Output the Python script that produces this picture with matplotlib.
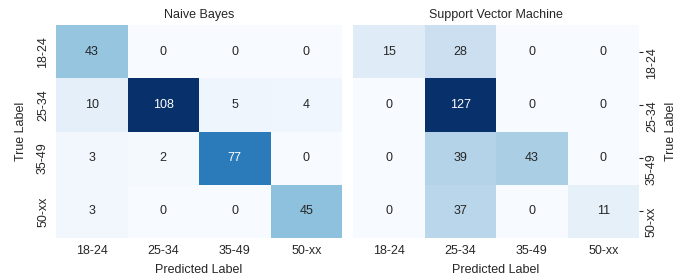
import matplotlib
matplotlib.use("Agg")
import matplotlib.pyplot as plt
import seaborn as sns
import numpy as np

labels = ["18-24", "25-34", "35-49", "50-xx"]
nb_matrix = [[43, 0, 0, 0],
             [10, 108, 5, 4],
             [3, 2, 77, 0],
             [3, 0, 0, 45]]
svm_matrix = [[15, 28, 0, 0],
              [0, 127, 0, 0],
              [0, 39, 43, 0],
              [0, 37, 0, 11]]
titles = ["Naive Bayes", "Support Vector Machine"]

sns.set_style("white")
plt.rcParams['font.family'] = ['Liberation Sans', 'DejaVu Sans']
text_color = "#262626"
fs = 9

fig = plt.figure(figsize=(6.83, 2.77), dpi=100)
ax1 = fig.add_axes([56/683, 39/277, 286/683, 213/277])
ax2 = fig.add_axes([353/683, 39/277, 286/683, 213/277])

for ax, mat, title in [(ax1, nb_matrix, titles[0]), (ax2, svm_matrix, titles[1])]:
    sns.heatmap(np.array(mat), ax=ax, annot=True, fmt="d", cmap="Blues", cbar=False,
                vmin=0, xticklabels=labels, yticklabels=labels,
                annot_kws={"fontsize": fs})
    ax.set_title(title, fontsize=fs, color=text_color, pad=5)
    ax.set_xlabel("Predicted Label", fontsize=fs, color=text_color, labelpad=5)
    ax.tick_params(axis='x', length=0, pad=5, labelsize=fs, colors=text_color)
    for t in ax.get_yticklabels():
        t.set_rotation(90)
        t.set_va("center")

ax1.set_ylabel("True Label", fontsize=fs, color=text_color, labelpad=7)
ax1.tick_params(axis='y', length=0, pad=5, labelsize=fs, colors=text_color)

ax2.yaxis.tick_right()
ax2.yaxis.set_label_position("right")
ax2.set_ylabel("True Label", fontsize=fs, color=text_color, labelpad=5)
ax2.tick_params(axis='y', right=True, length=3, width=0.8, pad=2, labelsize=fs,
                colors=text_color)

fig.savefig("out.png", dpi=100)
